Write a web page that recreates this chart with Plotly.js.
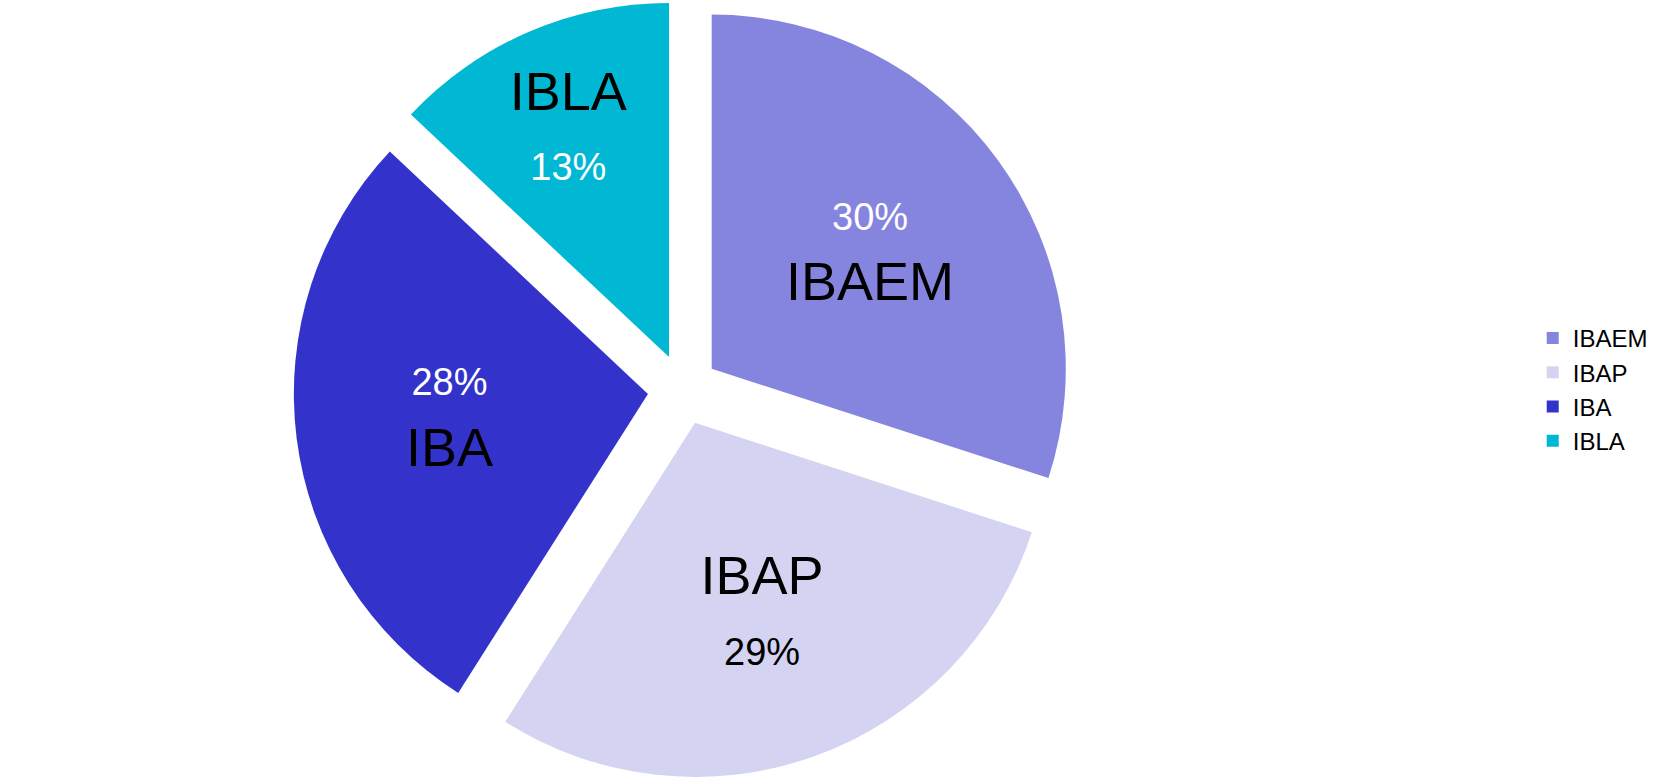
<!DOCTYPE html>
<html>
<head>
<meta charset="utf-8">
<script src="https://cdn.plot.ly/plotly-3.0.1.min.js"></script>
<style>html,body{margin:0;padding:0;background:#fff}#chart{width:1666px;height:779px}</style>
</head>
<body>
<div id="chart"></div>
<script>
const categories = ['IBAEM', 'IBAP', 'IBA', 'IBLA'];
const shares = [30, 29, 28, 13];
const sliceColors = ['#8585E0', '#D4D4F2', '#3333CC', '#00B8D4'];

const templates = [
  '<span style="color:white;font-size:38px">%{percent}</span><br>%{label}',
  '%{label}<br><span style="font-size:38px">%{percent}</span>',
  '<span style="color:white;font-size:38px">%{percent}</span><br>%{label}',
  '%{label}<br><span style="color:white;font-size:38px">%{percent}</span>'
];

const trace = {
  type: 'pie',
  labels: categories,
  values: shares,
  sort: false,
  direction: 'clockwise',
  rotation: 0,
  pull: [0.1, 0.1, 0.1, 0.1],
  marker: { colors: sliceColors, line: { color: '#ffffff', width: 0 } },
  texttemplate: templates,
  textposition: 'inside',
  insidetextorientation: 'horizontal',
  insidetextfont: { family: 'Liberation Sans, Arial, sans-serif', size: 54, color: '#000000' },
  hoverinfo: 'label+percent',
  domain: { x: [0, 0.82], y: [0, 1] }
};

const layout = {
  width: 1666,
  height: 779,
  margin: { l: 0, r: 0, t: 0, b: 0 },
  paper_bgcolor: '#ffffff',
  showlegend: true,
  legend: {
    x: 0.92, y: 0.5, xanchor: 'left', yanchor: 'middle',
    font: { family: 'Liberation Sans, Arial, sans-serif', size: 24, color: '#000000' },
    itemwidth: 30
  }
};

Plotly.newPlot('chart', [trace], layout, { displayModeBar: false, staticPlot: true });
</script>
</body>
</html>
